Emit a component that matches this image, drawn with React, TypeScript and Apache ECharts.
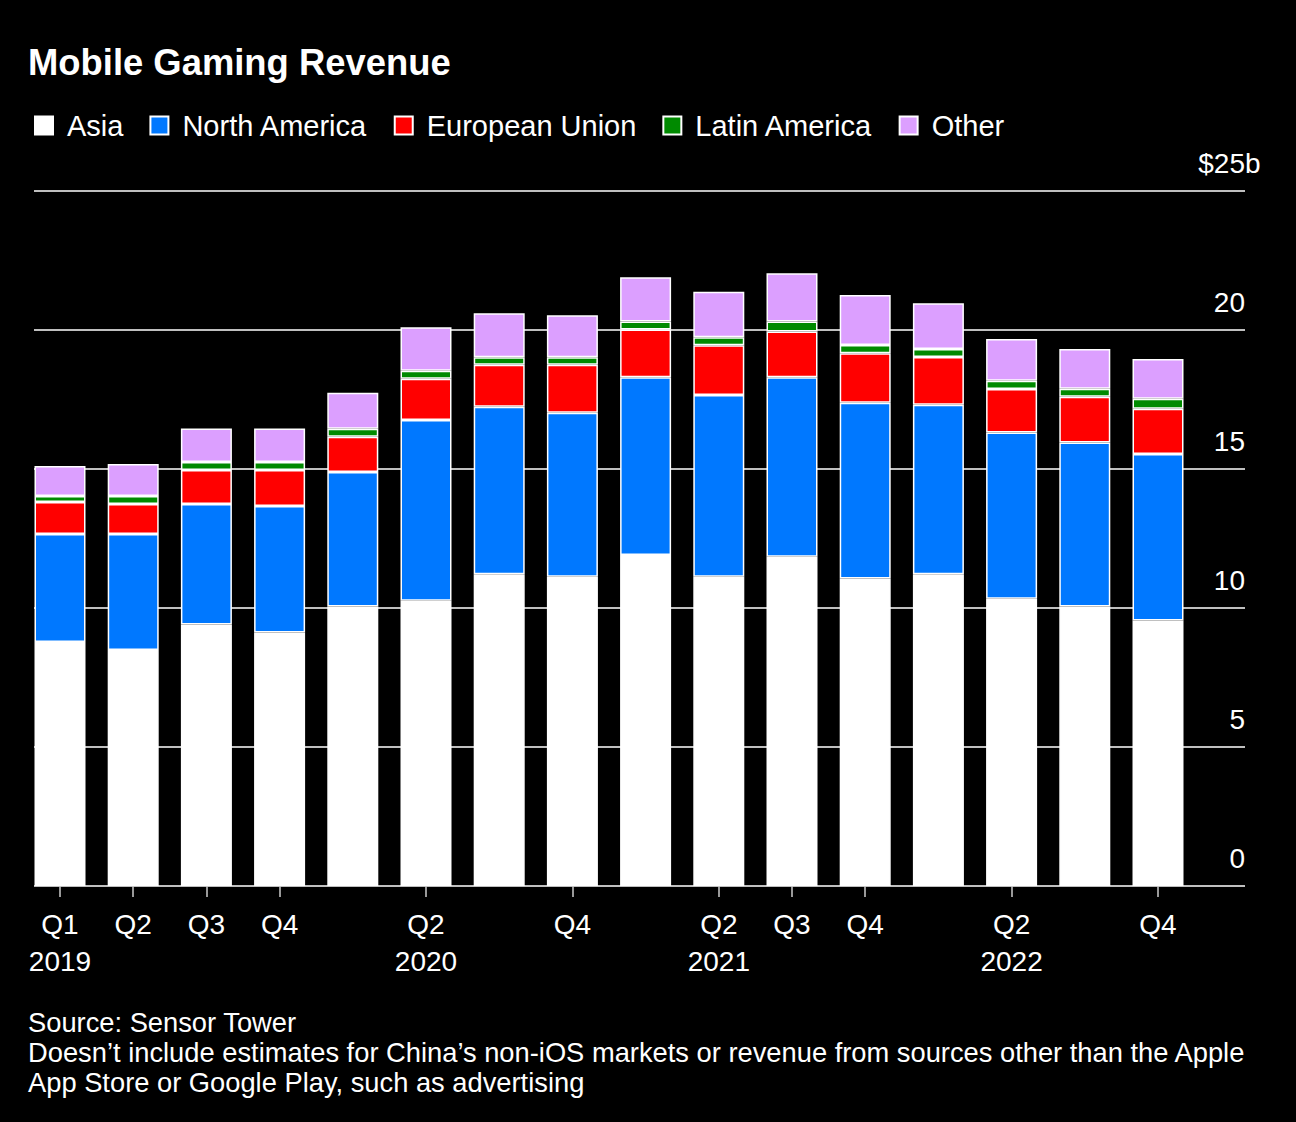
import React, { useEffect, useRef } from "react";
import * as echarts from "echarts";

const categories = [
  "Q1 2019", "Q2 2019", "Q3 2019", "Q4 2019",
  "Q1 2020", "Q2 2020", "Q3 2020", "Q4 2020",
  "Q1 2021", "Q2 2021", "Q3 2021", "Q4 2021",
  "Q1 2022", "Q2 2022", "Q3 2022", "Q4 2022",
];
const xTickLabels = [
  "Q1\n2019", "Q2", "Q3", "Q4",
  "", "Q2\n2020", "", "Q4",
  "", "Q2\n2021", "Q3", "Q4",
  "", "Q2\n2022", "", "Q4",
];
const yTickValues = [0, 5, 10, 15, 20, 25];
const yTickLabels = ["0", "5", "10", "15", "20", "$25b"];

const seriesNames = ["Asia", "North America", "European Union", "Latin America", "Other"];
const seriesColors = ["#ffffff", "#0078ff", "#ff0000", "#008a00", "#dc9fff"];

const asia = [8.78, 8.49, 9.41, 9.12, 10.05, 10.26, 11.21, 11.12, 11.91, 11.12, 11.84, 11.06, 11.21, 10.33, 10.05, 9.55];
const northAmerica = [3.88, 4.17, 4.33, 4.55, 4.84, 6.5, 6.03, 5.9, 6.39, 6.54, 6.46, 6.32, 6.1, 5.98, 5.9, 5.99];
const europeanUnion = [1.15, 1.08, 1.22, 1.29, 1.27, 1.49, 1.51, 1.73, 1.72, 1.79, 1.65, 1.78, 1.72, 1.57, 1.65, 1.63];
const latinAmerica = [0.22, 0.29, 0.29, 0.29, 0.29, 0.28, 0.27, 0.27, 0.29, 0.29, 0.36, 0.3, 0.29, 0.29, 0.29, 0.36];
const other = [1.08, 1.15, 1.21, 1.21, 1.29, 1.57, 1.58, 1.51, 1.59, 1.64, 1.73, 1.8, 1.64, 1.51, 1.43, 1.43];

const seriesData = [asia, northAmerica, europeanUnion, latinAmerica, other];

const FONT = '"Liberation Sans", Arial, sans-serif';

const footnote =
  "Source: Sensor Tower\nDoesn\u2019t include estimates for China\u2019s non-iOS markets or revenue from sources other than the Apple\nApp Store or Google Play, such as advertising";

function buildOption(): any {
  return {
    animation: false,
    backgroundColor: "#000000",
    textStyle: { fontFamily: FONT },
    title: {
      text: "Mobile Gaming Revenue",
      left: 28,
      top: 44,
      padding: 0,
      textStyle: { color: "#ffffff", fontSize: 36.4, fontWeight: "bold", fontFamily: FONT },
    },
    legend: {
      data: seriesNames,
      left: 34,
      top: 111,
      padding: 0,
      itemWidth: 18,
      itemHeight: 18,
      itemGap: 26,
      icon: "rect",
      selectedMode: false,
      textStyle: { color: "#ffffff", fontSize: 29, fontFamily: FONT, padding: [0, 0, 0, 9] },
    },
    grid: [
      { left: 23.4, right: 1296 - 1194.6, top: 191, bottom: 236, containLabel: false },
      { left: 34, right: 51, top: 191, bottom: 236, containLabel: false },
    ],
    xAxis: [
      {
        type: "category",
        gridIndex: 0,
        data: categories,
        boundaryGap: true,
        axisLine: { show: false },
        axisTick: {
          show: true,
          alignWithLabel: true,
          length: 11,
          interval: (i: number) => xTickLabels[i] !== "",
          lineStyle: { color: "#cccccc", width: 1.5 },
        },
        axisLabel: {
          interval: 0,
          margin: 20,
          color: "#ffffff",
          fontSize: 28,
          lineHeight: 37,
          fontFamily: FONT,
          formatter: (_v: string, i: number) => xTickLabels[i],
        },
        splitLine: { show: false },
      },
      {
        type: "value",
        gridIndex: 1,
        min: 0,
        max: 1,
        show: false,
      },
    ],
    yAxis: [
      {
        type: "value",
        gridIndex: 0,
        min: 0,
        max: 25,
        interval: 5,
        show: false,
      },
      {
        type: "value",
        gridIndex: 1,
        position: "right",
        min: 0,
        max: 25,
        interval: 5,
        axisLine: { show: false },
        axisTick: { show: false },
        splitLine: { show: true, lineStyle: { color: "#ffffff", width: 1.5 } },
        axisLabel: {
          inside: true,
          margin: 0,
          verticalAlign: "bottom",
          padding: [0, 0, 14, 0],
          color: "#ffffff",
          fontSize: 28,
          fontFamily: FONT,
          formatter: (v: number) => {
            const idx = yTickValues.indexOf(v);
            const lab = idx >= 0 ? yTickLabels[idx] : "";
            if (lab.endsWith("b")) {
              return "{n|" + lab.slice(0, -1) + "}{u|b}";
            }
            return lab;
          },
          rich: {
            n: { color: "#ffffff", fontSize: 28, fontFamily: FONT, align: "left" },
            u: { color: "#ffffff", fontSize: 28, fontFamily: FONT, width: 0, align: "left" },
          },
        },
      },
    ],
    series: seriesNames.map((name, k) => ({
      name,
      type: "bar",
      stack: "total",
      xAxisIndex: 0,
      yAxisIndex: 0,
      barWidth: 51,
      data: seriesData[k],
      itemStyle: { color: seriesColors[k], borderColor: "#ffffff", borderWidth: 1.5 },
      emphasis: { disabled: true },
    })),
    graphic: [
      {
        type: "text",
        left: 28,
        top: 1007,
        style: {
          text: footnote,
          fill: "#ffffff",
          font: '27.3px "Liberation Sans", Arial, sans-serif',
          lineHeight: 30,
        },
      },
    ],
  };
}

export default function App() {
  const ref = useRef<HTMLDivElement>(null);
  useEffect(() => {
    if (!ref.current) return;
    const chart = echarts.init(ref.current, null, { renderer: "svg" });
    chart.setOption(buildOption());
    return () => chart.dispose();
  }, []);
  return (
    <div
      ref={ref}
      style={{ position: "absolute", left: 0, top: 0, width: 1296, height: 1122, background: "#000000" }}
    />
  );
}
